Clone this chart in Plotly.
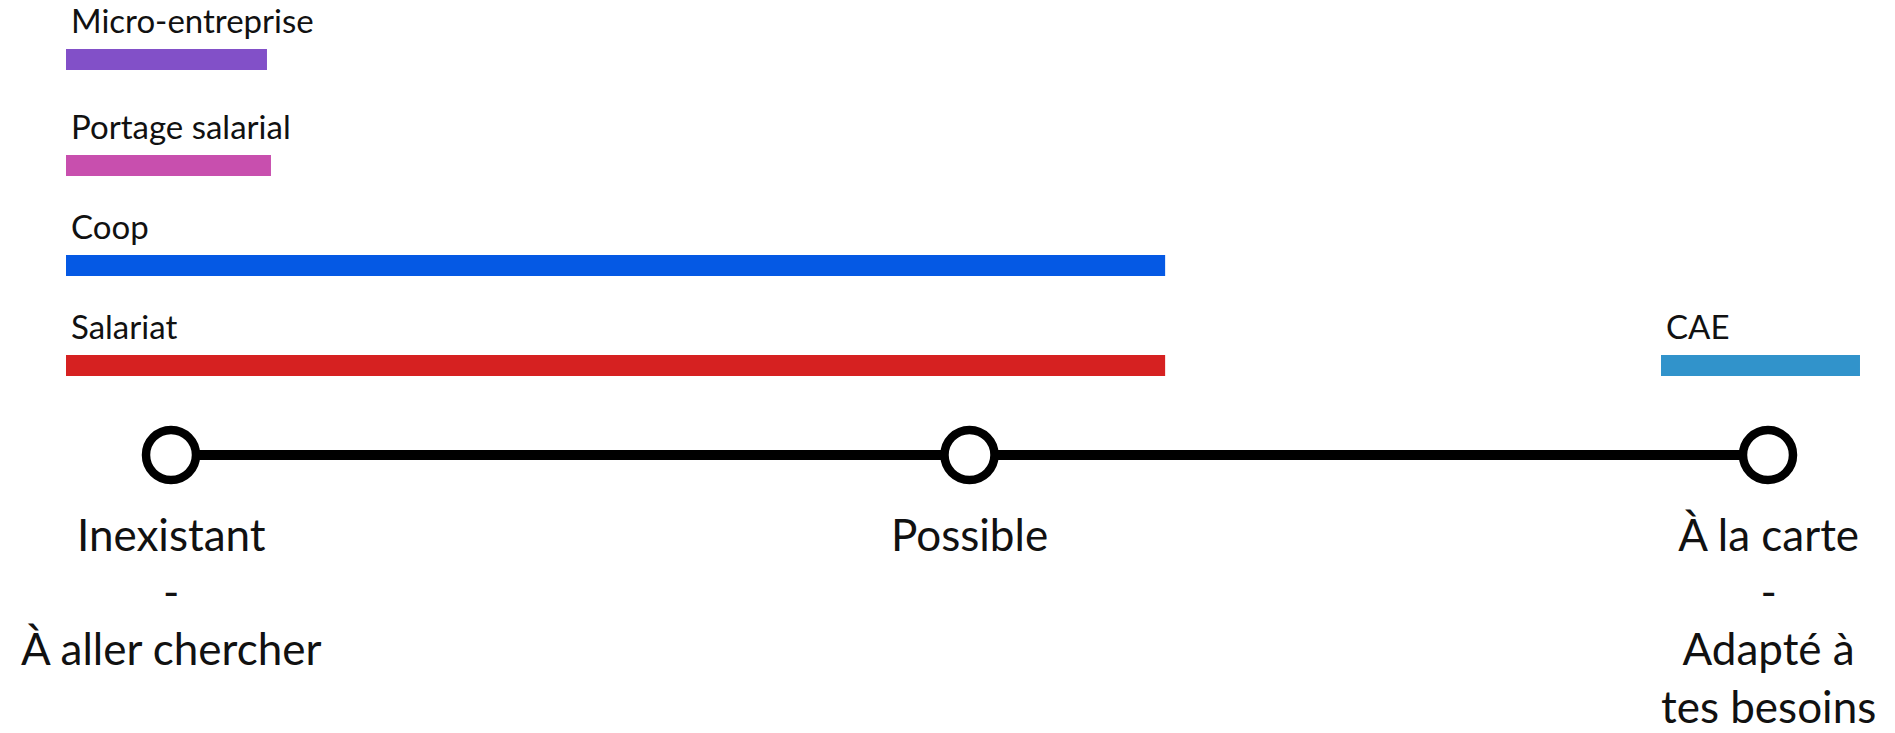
import plotly.graph_objects as go

# ---- data ----
series = ["Micro-entreprise", "Portage salarial", "Coop", "Salariat", "CAE"]
starts = [-0.1315, -0.1315, -0.1315, -0.1315, 1.866]
ends = [0.1202, 0.1252, 1.245, 1.245, 2.1152]
colors = ["#8250c8", "#c84fae", "#0559e4", "#d62121", "#3193cb"]
levels = [0, 1, 2]
level_labels = [
    "Inexistant<br>-<br>À aller chercher",
    "Possible",
    "À la carte<br>-<br>Adapté à<br>tes besoins",
]

# ---- layout helpers (rows) ----
lanes = [3.06, 2, 1, 0, 0]
axis_lane = -0.895
FONT = "Lato"
W, H = 1895, 733
px_per_unit = 798.5
x0_px = 163          # figure pixel of level 0 (page has an 8px body margin)
y0_px = 357.5        # figure pixel of lane 0
xr = [-x0_px / px_per_unit, (W - x0_px) / px_per_unit]
yr = [(y0_px - H) / 100.0, y0_px / 100.0]

fig = go.Figure()

for name, s, e, c, ln in zip(series, starts, ends, colors, lanes):
    fig.add_trace(go.Bar(
        orientation="h", y=[ln], x=[e - s], base=[s], width=0.21,
        marker=dict(color=c, line=dict(width=0)), name=name,
        hoverinfo="name",
    ))
    fig.add_annotation(
        x=s, y=ln + 0.105, xref="x", yref="y", text=name,
        xanchor="left", yanchor="bottom", xshift=3, yshift=7,
        showarrow=False, font=dict(family=FONT, size=33, color="#111111"),
    )

fig.add_trace(go.Scatter(
    x=levels, y=[axis_lane] * len(levels), mode="lines+markers",
    line=dict(color="black", width=10),
    marker=dict(size=50, color="white", line=dict(color="black", width=8.5)),
    hoverinfo="skip",
))

for lv, lab in zip(levels, level_labels):
    fig.add_annotation(
        x=lv, y=axis_lane, xref="x", yref="y", text=lab,
        xanchor="center", yanchor="top", yshift=-51,
        showarrow=False, font=dict(family=FONT, size=44, color="#111111"),
    )

fig.update_layout(
    width=W, height=H, margin=dict(l=0, r=0, t=0, b=0),
    paper_bgcolor="white", plot_bgcolor="white",
    showlegend=False, barmode="overlay",
    xaxis=dict(range=xr, visible=False, fixedrange=True),
    yaxis=dict(range=yr, visible=False, fixedrange=True),
)

fig.write_html("out.html")
